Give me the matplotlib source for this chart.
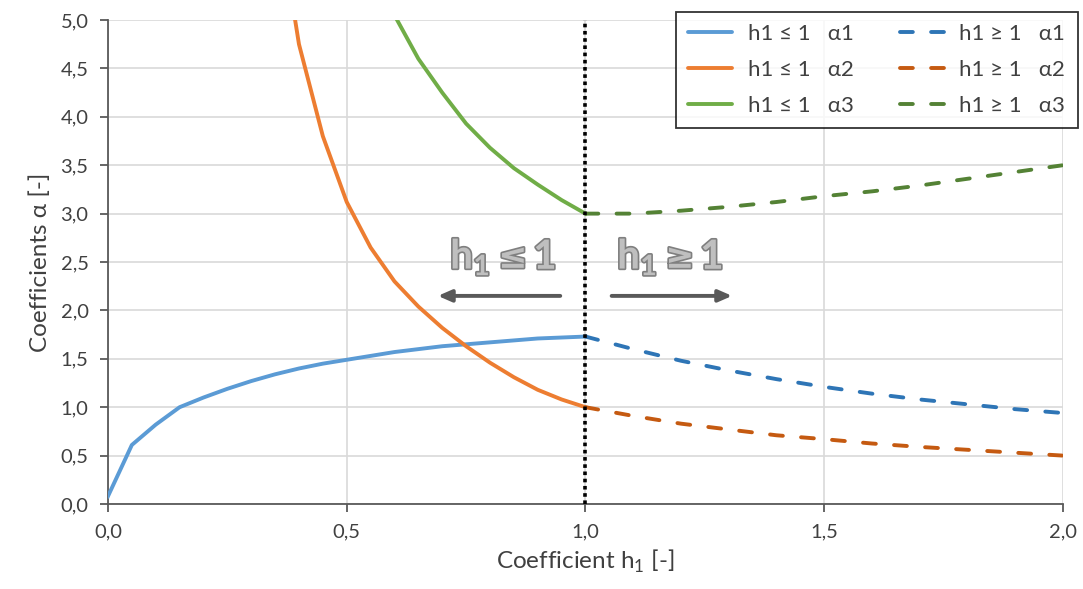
import matplotlib
matplotlib.use("Agg")
import matplotlib.pyplot as plt
import matplotlib.patheffects as pe
from matplotlib.lines import Line2D
from matplotlib.ticker import FuncFormatter

plt.rcParams['font.family'] = ['Lato', 'DejaVu Sans']
plt.rcParams['mathtext.fontset'] = 'custom'
plt.rcParams['mathtext.rm'] = 'Lato'
plt.rcParams['mathtext.bf'] = 'Lato:bold'

# h1 <= 1
h_low = [0.0, 0.05, 0.1, 0.15, 0.2, 0.25, 0.3, 0.35, 0.4, 0.45, 0.5,
         0.55, 0.6, 0.65, 0.7, 0.75, 0.8, 0.85, 0.9, 0.95, 1.0]
a1_low = [0.08, 0.61, 0.82, 1.0, 1.1, 1.19, 1.27, 1.34, 1.4, 1.45, 1.49,
          1.53, 1.57, 1.6, 1.63, 1.65, 1.67, 1.69, 1.71, 1.72, 1.73]
a2_low = [None, None, None, None, None, None, None, 6.3, 4.75, 3.8, 3.12,
          2.65, 2.3, 2.04, 1.82, 1.63, 1.46, 1.31, 1.18, 1.08, 1.0]
a3_low = [None, None, None, None, None, None, None, None, None, None, None,
          5.6, 5.05, 4.6, 4.25, 3.93, 3.68, 3.47, 3.3, 3.14, 3.0]

# h1 >= 1
h_high = [1.0, 1.1, 1.2, 1.3, 1.4, 1.5, 1.6, 1.7, 1.8, 1.9, 2.0]
a1_high = [1.73, 1.6, 1.48, 1.38, 1.29, 1.21, 1.14, 1.08, 1.03, 0.98, 0.94]
a2_high = [1.0, 0.91, 0.83, 0.77, 0.71, 0.67, 0.625, 0.59, 0.56, 0.53, 0.5]
a3_high = [3.0, 3.0, 3.03, 3.07, 3.12, 3.18, 3.23, 3.29, 3.36, 3.43, 3.5]

labels_low = ['h1 ≤ 1   α1', 'h1 ≤ 1   α2', 'h1 ≤ 1   α3']
labels_high = ['h1 ≥ 1   α1', 'h1 ≥ 1   α2', 'h1 ≥ 1   α3']
colors_low = ['#5B9BD5', '#ED7D31', '#70AD47']
colors_high = ['#2E75B6', '#C55A11', '#548235']


def clean(xs, ys):
    pts = [(x, y) for x, y in zip(xs, ys) if y is not None]
    return [p[0] for p in pts], [p[1] for p in pts]


fig = plt.figure(figsize=(10.83, 5.89), dpi=100)
ax = fig.add_axes([0.0997, 0.1443, 0.8818, 0.8217])

lw = 2.8
dash = (3.3, 4.7)
for ys, c in zip([a1_low, a2_low, a3_low], colors_low):
    ax.plot(*clean(h_low, ys), color=c, lw=lw, zorder=3)
for ys, c in zip([a1_high, a2_high, a3_high], colors_high):
    ax.plot(h_high, ys, color=c, lw=lw, dashes=dash, dash_capstyle='round', zorder=3)

ax.axvline(1.0, color='black', lw=2.6, linestyle=(0, (1, 1)), zorder=4)

ax.set_xlim(0, 2)
ax.set_ylim(0, 5)
ax.set_xticks([0, 0.5, 1.0, 1.5, 2.0])
ax.set_yticks([i * 0.5 for i in range(11)])
fmt = FuncFormatter(lambda v, p: f"{v:.1f}".replace('.', ','))
ax.xaxis.set_major_formatter(fmt)
ax.yaxis.set_major_formatter(fmt)
ax.grid(True, color='#D9D9D9', lw=1.2, zorder=0)
ax.set_axisbelow(True)
for s in ['top', 'right']:
    ax.spines[s].set_visible(False)
for s in ['left', 'bottom']:
    ax.spines[s].set_color('#595959')
    ax.spines[s].set_linewidth(1.3)
ax.tick_params(direction='out', length=6, width=1.3, color='#595959',
               labelsize=14.5, labelcolor='#404040', pad=8)

ax.set_xlabel(r"Coefficient h$_\mathregular{1}$ [-]", fontsize=17.5, color='#404040', labelpad=5)
ax.set_ylabel("Coefficients α [-]", fontsize=17.5, color='#404040', labelpad=7)

# region annotations
fx = [pe.withStroke(linewidth=2.4, foreground='#7F7F7F')]
ann = dict(fontweight='bold', color='#BFBFBF', va='baseline', path_effects=fx, zorder=5)
base_y = 2.43
for split, sym, xs, x1 in [(0.80, '≤', 0.848, 0.915), (1.1497, '≥', 1.1977, 1.2647)]:
    ax.text(split, base_y, r"h$_\mathbf{1}$", fontsize=29, ha='right', **ann)
    ax.text(xs, base_y + 0.01, sym, fontsize=25, ha='center', family=['DejaVu Sans'], **ann)
    ax.text(x1, base_y, "1", fontsize=29, ha='center', **ann)
arrow = dict(arrowstyle='-|>,head_length=0.8,head_width=0.35', color='#595959', lw=2.8)
ax.annotate('', xy=(0.685, 2.15), xytext=(0.953, 2.15), arrowprops=arrow, zorder=5)
ax.annotate('', xy=(1.313, 2.15), xytext=(1.049, 2.15), arrowprops=arrow, zorder=5)

# legend: column of solid lines, then column of dashed lines
handles = [Line2D([], [], color=c, lw=lw, solid_capstyle='round') for c in colors_low]
handles += [Line2D([], [], color=c, lw=lw, dashes=dash, dash_capstyle='round') for c in colors_high]
leg = fig.legend(handles, labels_low + labels_high, ncol=2, loc='upper right',
                 bbox_to_anchor=(0.995, 0.98), bbox_transform=fig.transFigure,
                 fontsize=16, frameon=True, fancybox=False, handlelength=1.97,
                 labelspacing=0.72, columnspacing=2.1, handletextpad=0.7,
                 borderpad=0.55, borderaxespad=0)
leg.get_frame().set_edgecolor('black')
leg.get_frame().set_linewidth(1.3)
for t in leg.get_texts():
    t.set_color('#404040')

fig.savefig('out.png', dpi=100)
